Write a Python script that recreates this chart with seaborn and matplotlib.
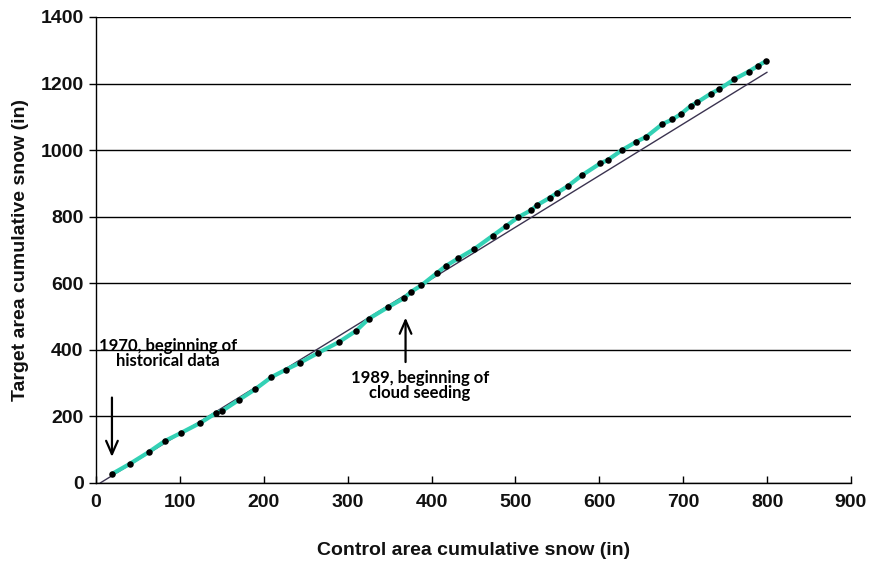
import numpy as np
import pandas as pd
import matplotlib
matplotlib.use("Agg")
import matplotlib.pyplot as plt
import seaborn as sns
from matplotlib import font_manager

# Cumulative seasonal snowfall, 1970 onward (inches)
control_cum = [19, 40, 63, 82, 101, 124, 143, 150, 170, 190, 209, 226, 243, 265,
               290, 310, 325, 348, 367, 376, 388, 406, 417, 432, 451, 473, 489,
               503, 519, 526, 541, 550, 563, 579, 601, 610, 627, 644, 656, 675,
               687, 697, 709, 717, 733, 743, 761, 778, 789, 799]
target_cum = [27, 57, 93, 126, 150, 180, 210, 216, 249, 282, 318, 340, 361, 391,
              424, 457, 493, 528, 555, 575, 594, 630, 652, 675, 703, 743, 772,
              798, 820, 835, 857, 872, 893, 924, 960, 970, 1000, 1025, 1040, 1078,
              1092, 1108, 1133, 1144, 1170, 1183, 1213, 1236, 1253, 1268]

# Pre-seeding relationship (fit line endpoints)
fit_x = [5, 800]
fit_y = [0, 1234]

x_ticks = list(range(0, 901, 100))
y_ticks = list(range(0, 1401, 200))

sns.set_theme(style="white")

names = {f.name for f in font_manager.fontManager.ttflist}
axis_font = "Liberation Sans Narrow" if "Liberation Sans Narrow" in names else "Liberation Sans"
note_font = "Lato" if "Lato" in names else "DejaVu Sans"
plt.rcParams["font.family"] = [axis_font, "DejaVu Sans"]

df = pd.DataFrame({"control": control_cum, "target": target_cum})

fig = plt.figure(figsize=(8.72, 5.62), dpi=100)
ax = fig.add_axes([0.1101, 0.1406, 0.8658, 0.8292])

ax.set_xlim(0, 900)
ax.set_ylim(0, 1400)
ax.set_xticks(x_ticks)
ax.set_yticks(y_ticks)
ax.yaxis.grid(True, color="black", linewidth=1.0)
ax.xaxis.grid(False)
ax.set_axisbelow(True)

sns.lineplot(x=fit_x, y=fit_y, ax=ax, color="#3b3350", linewidth=1.0, zorder=2)
sns.lineplot(data=df, x="control", y="target", sort=False, ax=ax,
             color="#33D1B5", linewidth=3.0, zorder=3)
sns.scatterplot(data=df, x="control", y="target", ax=ax, color="black",
                s=22, marker="o", edgecolor="black", linewidth=0, zorder=4)

for side in ("top", "right"):
    ax.spines[side].set_visible(False)
for side in ("left", "bottom"):
    ax.spines[side].set_color("black")
    ax.spines[side].set_linewidth(1.0)

ax.tick_params(axis="y", direction="out", length=5, width=1, color="black",
               labelsize=14, pad=4, left=True, labelcolor="#111111")
ax.tick_params(axis="x", direction="in", length=5, width=1, color="black",
               labelsize=14, pad=8, bottom=True, labelcolor="#111111")
for lab in ax.get_xticklabels() + ax.get_yticklabels():
    lab.set_fontweight("bold")

ax.set_xlabel("Control area cumulative snow (in)", fontsize=14, fontweight="bold",
              labelpad=22, color="#111111")
ax.set_ylabel("Target area cumulative snow (in)", fontsize=14, fontweight="bold",
              labelpad=8, color="#111111")

note_kw = dict(fontsize=12, fontweight="bold", family=[note_font, "DejaVu Sans"],
               ha="center", va="center", linespacing=0.9, color="black")
ax.annotate("", xy=(19, 70), xytext=(19, 265),
            arrowprops=dict(arrowstyle="->,head_length=0.8,head_width=0.35",
                            color="black", lw=1.6))
ax.text(86, 390, "1970, beginning of\nhistorical data", **note_kw)

ax.annotate("", xy=(369, 505), xytext=(369, 355),
            arrowprops=dict(arrowstyle="->,head_length=0.8,head_width=0.35",
                            color="black", lw=1.6))
ax.text(386, 293, "1989, beginning of\ncloud seeding", **note_kw)

fig.savefig("out.png", dpi=100, facecolor="white")
